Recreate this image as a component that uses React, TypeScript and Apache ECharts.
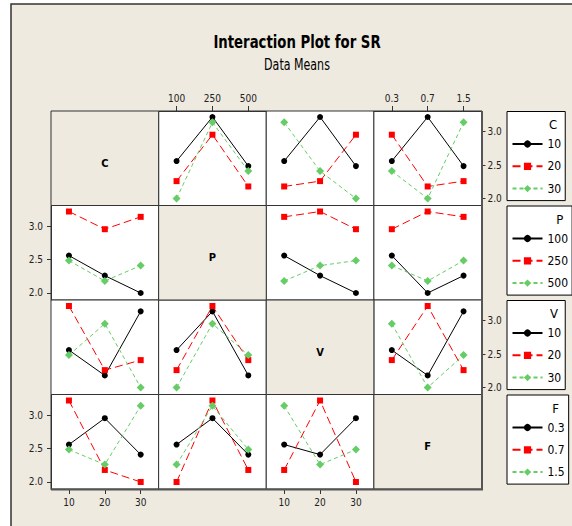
import React, { useEffect, useRef } from "react";
import * as echarts from "echarts";

// ---- data (L9 runs, SR response) ----
const runC = [10, 10, 10, 20, 20, 20, 30, 30, 30];
const runP = [100, 250, 500, 100, 250, 500, 100, 250, 500];
const runV = [10, 20, 30, 20, 30, 10, 30, 10, 20];
const runF = [0.3, 0.7, 1.5, 1.5, 0.3, 0.7, 0.7, 1.5, 0.3];
const SR = [2.56, 3.22, 2.485, 2.26, 2.955, 2.18, 2.0, 3.14, 2.41];

const factorNames = ["C", "P", "V", "F"];
const levelsC = [10, 20, 30];
const levelsP = [100, 250, 500];
const levelsV = [10, 20, 30];
const levelsF = [0.3, 0.7, 1.5];
const labelsC = ["10", "20", "30"];
const labelsP = ["100", "250", "500"];
const labelsV = ["10", "20", "30"];
const labelsF = ["0.3", "0.7", "1.5"];
const yTicks = [2.0, 2.5, 3.0];

const runs = [runC, runP, runV, runF];
const levels = [levelsC, levelsP, levelsV, levelsF];
const labels = [labelsC, labelsP, labelsV, labelsF];

const FONT = "'Liberation Sans Narrow', 'DejaVu Sans Condensed', sans-serif";
const BG = "#EEEADF";
const BORDER = "#333333";
const COLORS = ["#000000", "#FF0000", "#66CC66"];
const SYMBOLS = ["circle", "rect", "diamond"];
const SYMBOL_SIZES = [6, 6, 8];
const DASHES: any[] = ["solid", [8, 4], [4, 3]];

const X0 = 51;
const Y0 = 111;
const CW = 107.625;
const RH = 94.5;
const YMIN = 1.895;
const YMAX = 3.31;

function cellMeans(r: number, c: number): number[][] {
  return levels[r].map((a) =>
    levels[c].map((b) => {
      let s = 0;
      let n = 0;
      for (let i = 0; i < SR.length; i++) {
        if (runs[r][i] === a && runs[c][i] === b) {
          s += SR[i];
          n++;
        }
      }
      return n ? s / n : NaN;
    })
  );
}

function buildOption() {
  const grid: any[] = [];
  const xAxis: any[] = [];
  const yAxis: any[] = [];
  const series: any[] = [];
  const graphic: any[] = [];
  const legend: any[] = [];

  graphic.push({
    type: "rect",
    z: -10,
    silent: true,
    shape: { x: 11, y: 4, width: 700, height: 700 },
    style: { fill: BG, stroke: BORDER, lineWidth: 1.5 },
  });
  graphic.push({
    type: "text",
    x: 297,
    y: 42,
    scaleX: 0.82,
    z: 10,
    style: {
      text: "Interaction Plot for SR",
      fontFamily: FONT,
      fontSize: 18,
      fontWeight: "bold",
      fill: "#000",
      align: "center",
      verticalAlign: "middle",
    },
  });
  graphic.push({
    type: "text",
    x: 297,
    y: 65,
    scaleX: 0.82,
    z: 10,
    style: {
      text: "Data Means",
      fontFamily: FONT,
      fontSize: 15,
      fill: "#000",
      align: "center",
      verticalAlign: "middle",
    },
  });

  let k = 0;
  for (let r = 0; r < 4; r++) {
    for (let c = 0; c < 4; c++) {
      const left = X0 + c * CW;
      const top = Y0 + r * RH;
      if (r === c) {
        graphic.push({
          type: "rect",
          z: 1,
          silent: true,
          shape: { x: left, y: top, width: CW, height: RH },
          style: { fill: BG, stroke: BORDER, lineWidth: 1 },
        });
        graphic.push({
          type: "text",
          x: left + CW / 2,
          y: top + RH / 2 + 5,
          z: 2,
          style: {
            text: factorNames[r],
            fontFamily: FONT,
            fontSize: 11,
            fontWeight: "bold",
            fill: "#000",
            align: "center",
            verticalAlign: "middle",
          },
        });
        continue;
      }
      grid.push({
        left,
        top,
        width: CW,
        height: RH,
        show: true,
        backgroundColor: "#fff",
        borderColor: BORDER,
        borderWidth: 1,
      });
      const showX = (r === 0 && (c === 1 || c === 3)) || (r === 3 && (c === 0 || c === 2));
      const showY = (c === 3 && (r === 0 || r === 2)) || (c === 0 && (r === 1 || r === 3));
      xAxis.push({
        gridIndex: k,
        type: "category",
        data: labels[c],
        boundaryGap: true,
        show: showX,
        position: r === 0 ? "top" : "bottom",
        axisLine: { show: true, lineStyle: { color: BORDER, width: 1 } },
        axisTick: { show: true, alignWithLabel: true, length: 5, lineStyle: { color: BORDER } },
        axisLabel: { fontFamily: FONT, fontSize: 10, color: "#222", margin: 8 },
        splitLine: { show: false },
      });
      yAxis.push({
        gridIndex: k,
        type: "value",
        min: YMIN,
        max: YMAX,
        show: showY,
        position: c === 3 ? "right" : "left",
        axisLine: { show: true, lineStyle: { color: BORDER, width: 1 } },
        axisTick: { show: true, length: 4, customValues: yTicks, lineStyle: { color: BORDER } },
        axisLabel: {
          fontFamily: FONT,
          fontSize: 10,
          color: "#222",
          margin: c === 3 ? 6 : 8,
          customValues: yTicks,
          formatter: (v: number) => v.toFixed(1),
        },
        splitLine: { show: false },
      });
      const means = cellMeans(r, c);
      for (let a = 0; a < 3; a++) {
        series.push({
          type: "line",
          name: labels[r][a],
          xAxisIndex: k,
          yAxisIndex: k,
          data: means[a],
          symbol: SYMBOLS[a],
          symbolSize: SYMBOL_SIZES[a],
          showAllSymbol: true,
          lineStyle: { color: COLORS[a], width: 1, type: DASHES[a] },
          itemStyle: { color: COLORS[a] },
          z: 3 + a,
        });
      }
      k++;
    }
  }

  // matrix outer shadow edges
  graphic.push({
    type: "polyline",
    z: 5,
    silent: true,
    shape: {
      points: [
        [X0 + 4 * CW + 0.5, Y0],
        [X0 + 4 * CW + 0.5, Y0 + 4 * RH + 0.5],
        [X0, Y0 + 4 * RH + 0.5],
      ],
    },
    style: { stroke: "#555", lineWidth: 2, fill: null },
  });

  const titleX = [553, 559.7, 554, 555.5];
  for (let r = 0; r < 4; r++) {
    const top = Y0 + r * RH + 0.5;
    legend.push({
      data: labels[r],
      left: 507,
      top,
      orient: "vertical",
      itemWidth: 30,
      itemHeight: 9,
      itemGap: 10.3,
      padding: [26.5, 4, 6, 4.5],
      borderColor: "#000",
      borderWidth: 1,
      backgroundColor: "#fff",
      selectedMode: false,
      textStyle: { fontFamily: FONT, fontSize: 12, color: "#000", width: 20 },
    });
    graphic.push({
      type: "text",
      x: titleX[r],
      y: top + 13.3,
      z: 100,
      style: {
        text: factorNames[r],
        fontFamily: FONT,
        fontSize: 13,
        fill: "#000",
        align: "center",
        verticalAlign: "middle",
      },
    });
  }

  return {
    animation: false,
    backgroundColor: "#fff",
    grid,
    xAxis,
    yAxis,
    series,
    legend,
    graphic,
  };
}

export default function App() {
  const ref = useRef<HTMLDivElement>(null);
  useEffect(() => {
    if (!ref.current) return;
    const chart = echarts.init(ref.current, undefined, { renderer: "svg" });
    chart.setOption(buildOption() as any);
    return () => chart.dispose();
  }, []);
  return (
    <div
      ref={ref}
      style={{ position: "fixed", left: 0, top: 0, width: 572, height: 526 }}
    />
  );
}
